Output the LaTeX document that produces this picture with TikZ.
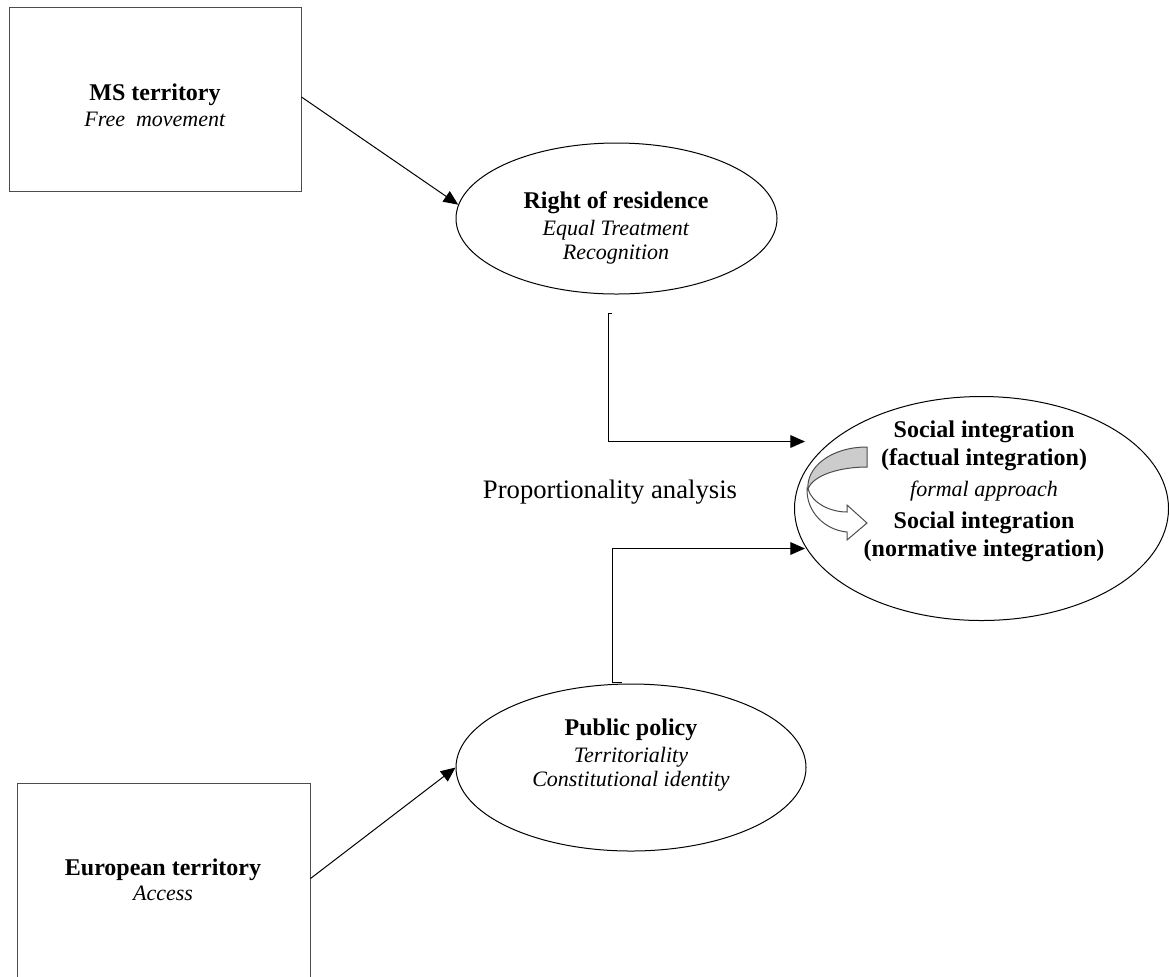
\documentclass[tikz,border=0pt]{standalone}
\usepackage{fontspec}
\setmainfont{Liberation Serif}
\usetikzlibrary{arrows.meta,shapes.geometric,calc}

\tikzset{every picture/.style={line width=0.75pt}}
\tikzset{
  terr/.style={draw=black!70, rectangle, inner sep=0pt},
  oval/.style={draw, ellipse, inner sep=0pt},
  txt/.style={align=center, font=\fontsize{16.5}{18}\selectfont},
  arr/.style={-{Triangle[length=11pt,width=9.5pt]}},
}
\newcommand{\hd}[1]{{\fontsize{18}{18}\selectfont\bfseries #1}}

\begin{document}
\begin{tikzpicture}[x=0.75pt,y=0.75pt,yscale=-1]
	\useasboundingbox (0,0) rectangle (1169,976);

	%Shape: Rectangle [MS territory]
	\node[terr, minimum width=219pt, minimum height=138pt] (ms) at (155,99) {};
	%Shape: Rectangle [European territory]
	\node[terr, minimum width=219.75pt, minimum height=147.75pt] (eu) at (163.5,881.5) {};
	%Shape: Ellipse [Right of residence]
	\node[oval, minimum width=240.75pt, minimum height=113.25pt] (rr) at (616.5,218.5) {};
	%Shape: Ellipse [Public policy]
	\node[oval, minimum width=262.5pt, minimum height=125.25pt] (pp) at (631,767.5) {};
	%Shape: Ellipse [Social integration]
	\node[oval, minimum width=280.5pt, minimum height=168pt] (si) at (981.5,508.5) {};

	%Straight Lines
	\draw[arr] ($(ms.east)+(0,-2)$) -- (rr.175);
	\draw[arr] ($(eu.east)+(0,-3)$) -- (pp.west);

	%Elbow Lines
	\coordinate (rr-foot) at ($(rr.south)+(-8,19)$);
	\coordinate (pp-head) at ($(pp.north)+(-19,-1)$);
	\coordinate (si-in1) at ($(si.west)+(11,-67)$);
	\coordinate (si-in2) at ($(si.west)+(11,40)$);
	\draw[arr] ($(rr-foot)+(3,0)$) -- (rr-foot) |- (si-in1);
	\draw[arr] ($(pp-head)+(10,0)$) -- (pp-head) |- (si-in2);

	%Shape: Curved Arrow
	\draw[draw=black!70, fill=black!20] (867,447) -- (867,467) .. controls (840,467) and (813,475) .. (808,489) .. controls (806,468) and (830,447) .. (867,447) -- cycle;
	\draw[draw=black!70, fill=white] (807,488) .. controls (806,512) and (825,530) .. (847,532) -- (847,540) -- (867,523) -- (847,505) -- (847,512) .. controls (830,512) and (812,503) .. (808,489) -- cycle;

	% Text Node
	\node[txt] (ms-t) at (155,105) {\hd{MS territory}\\[1.5pt] \textit{Free\ \ movement}};
	% Text Node
	\node[txt] (rr-t) at (616,228) {\hd{Right of residence}\\[2pt] \textit{Equal Treatment}\\ \textit{Recognition}};
	% Text Node
	\node[txt] (si-t) at (984,491) {\hd{Social integration}\\[3pt] \hd{(factual integration)}\\[5pt] \textit{formal approach}\\[6pt] \hd{Social integration}\\[3pt] \hd{(normative integration)}};
	% Text Node
	\node[txt] (pp-t) at (631,755) {\hd{Public policy}\\[2pt] \textit{Territoriality}\\ \textit{Constitutional identity}};
	% Text Node
	\node[txt] (eu-t) at (163,880) {\hd{European territory}\\[1pt] \textit{Access}};
	% Text Node
	\node[font=\fontsize{20}{24}\selectfont] (prop) at (610,492) {Proportionality analysis};

\end{tikzpicture}
\end{document}
